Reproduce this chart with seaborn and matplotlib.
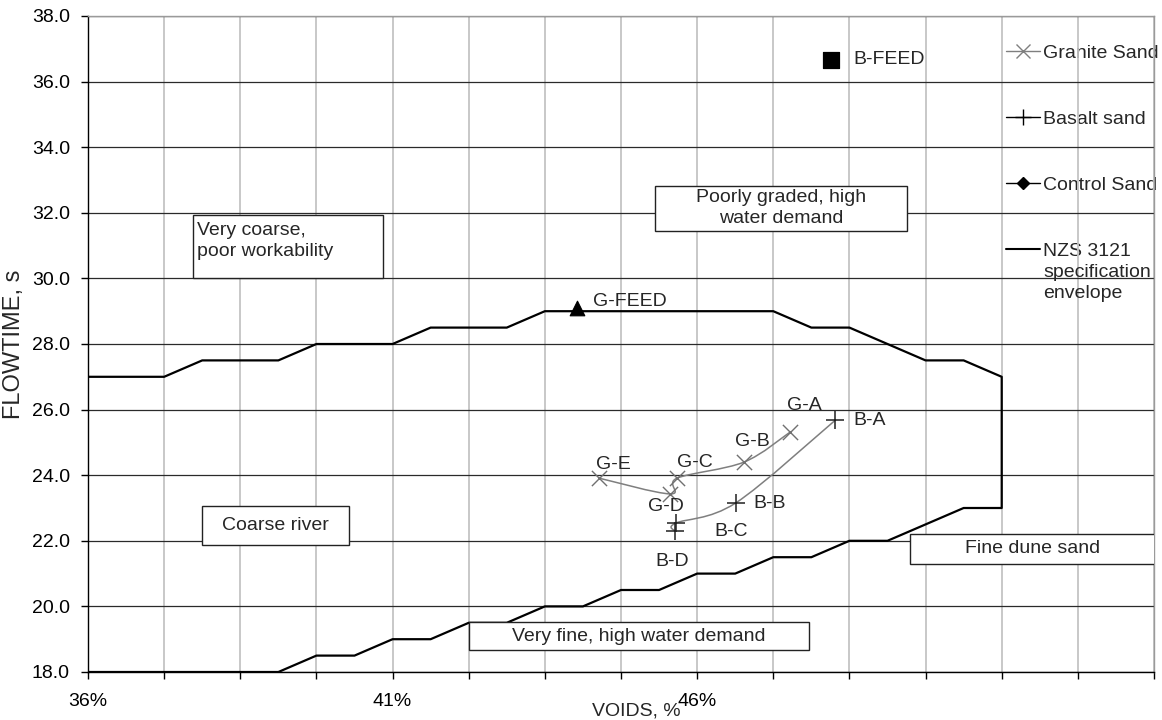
import numpy as np
import pandas as pd
import matplotlib
matplotlib.use("Agg")
import matplotlib.pyplot as plt
from matplotlib.path import Path
from matplotlib.patches import PathPatch, Rectangle
from matplotlib.lines import Line2D
import seaborn as sns

# ---- data -------------------------------------------------------------
granite_labels = ["G-E", "G-D", "G-C", "G-B", "G-A"]
granite_voids = [44.39, 45.56, 45.67, 46.77, 47.53]
granite_flow = [23.91, 23.43, 23.91, 24.40, 25.32]

basalt_labels = ["B-D", "B-C", "B-B", "B-A"]
basalt_voids = [45.63, 45.65, 46.63, 48.27]
basalt_flow = [22.30, 22.54, 23.15, 25.68]

feed_labels = ["G-FEED", "B-FEED"]
feed_voids = [44.03, 48.19]
feed_flow = [29.10, 36.66]

# NZS 3121 specification envelope (upper edge, right side, lower edge)
envelope_voids = [36.0, 37.25, 37.875, 39.125, 39.75, 41.0, 41.625, 42.875, 43.5,
                  47.25, 47.875, 48.5, 49.125, 49.75, 50.375, 51.0,
                  51.0, 50.375, 49.75, 49.125, 48.5, 47.875, 47.25, 46.625, 46.0,
                  45.375, 44.75, 44.125, 43.5, 42.875, 42.25, 41.625, 41.0,
                  40.375, 39.75, 39.125, 36.0]
envelope_flow = [27.0, 27.0, 27.5, 27.5, 28.0, 28.0, 28.5, 28.5, 29.0,
                 29.0, 28.5, 28.5, 28.0, 27.5, 27.5, 27.0,
                 23.0, 23.0, 22.5, 22.0, 22.0, 21.5, 21.5, 21.0, 21.0,
                 20.5, 20.5, 20.0, 20.0, 19.5, 19.5, 19.0, 19.0,
                 18.5, 18.5, 18.0, 18.0]

x_ticks = [36 + 1.25 * i for i in range(15)]
x_tick_labels = ["36%", "", "", "", "41%", "", "", "", "46%", "", "", "", "", "", ""]
y_ticks = [18, 20, 22, 24, 26, 28, 30, 32, 34, 36, 38]

legend_labels = ["Granite Sand", "Basalt sand", "Control Sand",
                 "NZS 3121\nspecification\nenvelope"]

# ---- style ------------------------------------------------------------
sns.set_style("white")
plt.rcParams["font.family"] = ["Liberation Sans", "DejaVu Sans"]
plt.rcParams["font.size"] = 14

W, H = 1162, 720
fig = plt.figure(figsize=(W / 100, H / 100), dpi=100)
ax = fig.add_axes([88 / W, 1 - 672 / H, (1154 - 88) / W, (672 - 16) / H])

ax.set_xlim(36, 53.5)
ax.set_ylim(18, 38)
ax.set_xticks(x_ticks)
ax.set_xticklabels(x_tick_labels)
ax.set_yticks(y_ticks)
ax.set_yticklabels([f"{v:.1f}" for v in y_ticks])
ax.tick_params(axis="both", labelsize=14, colors="black", length=5, width=1,
               direction="out", bottom=True, left=True)
ax.tick_params(axis="x", pad=10)
ax.tick_params(axis="y", pad=8)

ax.set_axisbelow(True)
ax.xaxis.grid(True, color="#c4c4c4", lw=1.3)
ax.yaxis.grid(True, color="#2a2a2a", lw=0.9)
for side in ("left", "bottom"):
    ax.spines[side].set_color("black")
    ax.spines[side].set_linewidth(1.0)
for side in ("top", "right"):
    ax.spines[side].set_color("#9a9a9a")
    ax.spines[side].set_linewidth(1.0)

ax.set_xlabel("VOIDS, %", fontsize=14)
ax.set_ylabel("FLOWTIME, s", fontsize=17)
ax.xaxis.set_label_coords(0.514, -0.046)
ax.yaxis.set_label_coords(-0.059, 0.5)

# ---- envelope ----------------------------------------------------------
env = pd.DataFrame({"voids": envelope_voids, "flow": envelope_flow})
sns.lineplot(data=env, x="voids", y="flow", sort=False, estimator=None,
             color="black", lw=1.6, ax=ax, zorder=3)


def smooth_path(xs, ys):
    """Cubic Bezier path through the points (Catmull-Rom style tangents)."""
    pts = np.column_stack([xs, ys]).astype(float)
    n = len(pts)
    verts, codes = [pts[0]], [Path.MOVETO]
    for i in range(n - 1):
        p0 = pts[i - 1] if i > 0 else pts[i]
        p1, p2 = pts[i], pts[i + 1]
        p3 = pts[i + 2] if i + 2 < n else pts[i + 1]
        verts += [p1 + (p2 - p0) / 6, p2 - (p3 - p1) / 6, p2]
        codes += [Path.CURVE4] * 3
    return Path(verts, codes)


ax.add_patch(PathPatch(smooth_path(granite_voids, granite_flow), fill=False,
                       ec="#7f7f7f", lw=1.1, zorder=4))
ax.add_patch(PathPatch(smooth_path(basalt_voids, basalt_flow), fill=False,
                       ec="#7f7f7f", lw=1.1, zorder=4))

granite = pd.DataFrame({"voids": granite_voids, "flow": granite_flow})
basalt = pd.DataFrame({"voids": basalt_voids, "flow": basalt_flow})
sns.scatterplot(data=granite, x="voids", y="flow", marker="x", s=120,
                color="#707070", linewidth=1.0, ax=ax, zorder=5)
sns.scatterplot(data=basalt, x="voids", y="flow", marker="+", s=150,
                color="#202020", linewidth=1.1, ax=ax, zorder=5)
sns.scatterplot(x=[feed_voids[0]], y=[feed_flow[0]], marker="^", s=110,
                color="black", edgecolor="black", ax=ax, zorder=5)
sns.scatterplot(x=[feed_voids[1]], y=[feed_flow[1]], marker="s", s=120,
                color="black", edgecolor="black", ax=ax, zorder=5)

# point labels (offsets in points)
granite_offsets = [(10, 10), (-3, -9), (13, 11.5), (6, 15), (10, 19)]
basalt_offsets = [(-2, -22), (40, -6), (13, 0), (13, 0)]
basalt_ha = ["center", "center", "left", "left"]
for lab, x, y, off in zip(granite_labels, granite_voids, granite_flow, granite_offsets):
    ax.annotate(lab, (x, y), xytext=off, textcoords="offset points",
                ha="center", va="center", fontsize=14, zorder=6)
for lab, x, y, off, ha in zip(basalt_labels, basalt_voids, basalt_flow,
                              basalt_offsets, basalt_ha):
    ax.annotate(lab, (x, y), xytext=off, textcoords="offset points",
                ha=ha, va="center", fontsize=14, zorder=6)
for lab, x, y, off in zip(feed_labels, feed_voids, feed_flow, [(11.5, 4.3), (16.5, 0)]):
    ax.annotate(lab, (x, y), xytext=off, textcoords="offset points",
                ha="left", va="center", fontsize=14, zorder=6)

# ---- region boxes -----------------------------------------------------
boxes = [
    # (x0, y0, x1, y1, text, ha, va)
    (37.73, 30.01, 40.85, 31.93, "Very coarse,\npoor workability", "left", "top"),
    (45.31, 31.45, 49.45, 32.82, "Poorly graded, high\nwater demand", "center", "center"),
    (37.875, 21.87, 40.29, 23.06, "Coarse river", "center", "center"),
    (42.25, 18.67, 47.84, 19.52, "Very fine, high water demand", "center", "center"),
    (49.49, 21.29, 53.52, 22.21, "Fine dune sand", "center", "center"),
]
for x0, y0, x1, y1, txt, ha, va in boxes:
    ax.add_patch(Rectangle((x0, y0), x1 - x0, y1 - y0, fc="white", ec="#222222",
                           lw=1.0, zorder=7))
    tx = x0 + 0.06 if ha == "left" else (x0 + x1) / 2
    ty = y1 - 0.2 if va == "top" else (y0 + y1) / 2
    ax.text(tx, ty, txt, ha=ha, va=va, fontsize=14, linespacing=1.3, zorder=8)

# ---- legend -----------------------------------------------------------
handles = [
    Line2D([], [], color="#7f7f7f", marker="x", markersize=10, lw=1.0),
    Line2D([], [], color="black", marker="+", markersize=11, lw=1.0),
    Line2D([], [], color="black", marker="D", markersize=6, lw=1.0),
    Line2D([], [], color="black", lw=1.5),
]
first_lines = [lab.split("\n")[0] for lab in legend_labels]
leg = ax.legend(handles, first_lines, loc="upper left",
                bbox_to_anchor=(1006 / W, 1 - 44 / H), bbox_transform=fig.transFigure,
                frameon=False, fontsize=14, handlelength=1.75, handletextpad=0.15,
                labelspacing=2.5, borderpad=0, borderaxespad=0)
leg.set_zorder(0.4)

# continuation lines of the multi-line legend entry, set under its first line
fig.canvas.draw()
renderer = fig.canvas.get_renderer()
last_text = leg.get_texts()[-1]
bb = last_text.get_window_extent(renderer)
rest = "\n".join(legend_labels[-1].split("\n")[1:])
fig.text(bb.x0 / W, (bb.y0 - 4) / H, rest, ha="left", va="top", fontsize=14,
         linespacing=1.3, zorder=0.4)

fig.savefig("out.png", dpi=100)
